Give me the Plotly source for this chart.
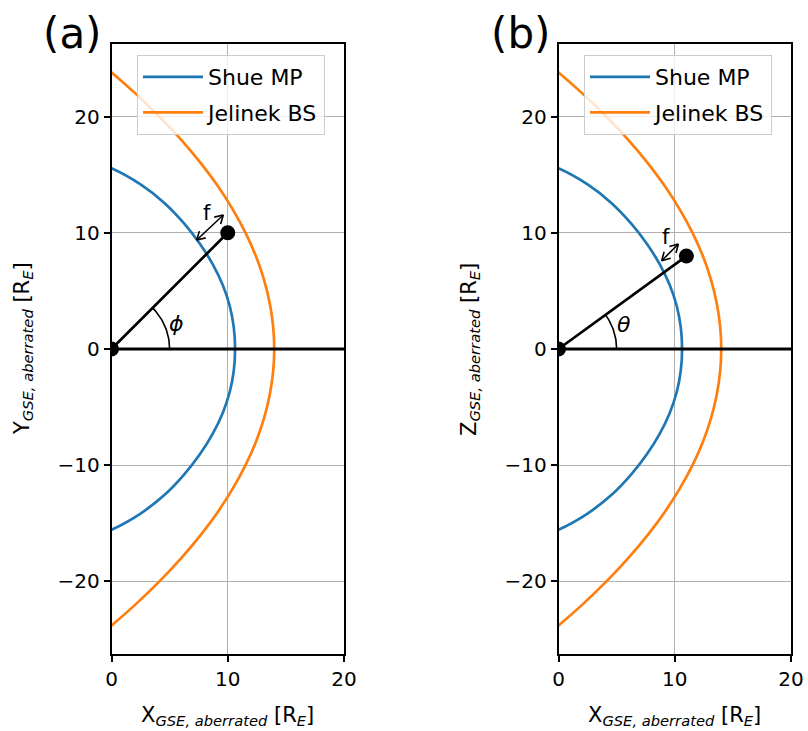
import math
import plotly.graph_objects as go

# ---------------- data ----------------
# Shue magnetopause (X, Y) in R_E
mp_x = [-2.92, 0.0, 2.50, 4.57, 6.24, 7.60, 8.70, 9.56, 10.17, 10.52, 10.63,
        10.52, 10.17, 9.56, 8.70, 7.60, 6.24, 4.57, 2.50, 0.0, -2.92]
mp_y = [-16.55, -15.55, -14.16, -12.55, -10.81, -9.06, -7.30, -5.52, -3.70, -1.86, 0.0,
        1.86, 3.70, 5.52, 7.30, 9.06, 10.81, 12.55, 14.16, 15.55, 16.55]

# Jelinek bow shock (X, Y) in R_E
bs_y = [-26, -24, -22, -20, -18, -16, -14, -12, -10, -8, -6, -4, -2, 0,
        2, 4, 6, 8, 10, 12, 14, 16, 18, 20, 22, 24, 26]
bs_x = [-2.70, -0.23, 2.05, 4.12, 6.00, 7.68, 9.16, 10.44, 11.53, 12.42, 13.11, 13.60, 13.90, 14.00,
        13.90, 13.60, 13.11, 12.42, 11.53, 10.44, 9.16, 7.68, 6.00, 4.12, 2.05, -0.23, -2.70]

# spacecraft positions
point_a = [10.0, 10.0]   # (X, Y)
point_b = [11.0, 8.0]    # (X, Z)

# "f" double arrows: [x0, y0, x1, y1]
arrow_a = [7.33, 9.38, 9.62, 11.53]
arrow_b = [8.88, 7.60, 10.31, 9.04]
f_label_a = [8.19, 11.68]
f_label_b = [9.25, 9.66]
angle_label_a = [5.6, 2.2]
angle_label_b = [5.64, 2.07]
arc_radius = 5.0

x_ticks = [0, 10, 20]
y_ticks = [-20, -10, 0, 10, 20]

BLUE = "#1f77b4"
ORANGE = "#ff7f0e"
FONT = "DejaVu Sans"
W, H = 808, 731


def arc_points(px, py, r):
    ang = math.atan2(py, px)
    n = 40
    xs = [r * math.cos(ang * i / n) for i in range(n + 1)]
    ys = [r * math.sin(ang * i / n) for i in range(n + 1)]
    return xs, ys


def double_arrow(a, hl=0.8, ha=math.radians(30)):
    x0, y0, x1, y1 = a
    dx, dy = x1 - x0, y1 - y0
    L = math.hypot(dx, dy)
    ux, uy = dx / L, dy / L
    xs, ys = [x0, x1, None], [y0, y1, None]

    def rot(vx, vy, t):
        return vx * math.cos(t) - vy * math.sin(t), vx * math.sin(t) + vy * math.cos(t)

    for (ex, ey, sx, sy) in [(x1, y1, ux, uy), (x0, y0, -ux, -uy)]:
        for t in (ha, -ha):
            rx, ry = rot(sx, sy, t)
            xs += [ex - hl * rx, ex, None]
            ys += [ey - hl * ry, ey, None]
    return xs, ys


fig = go.Figure()

panels = [
    ("x", "y", "legend", point_a, arrow_a, f_label_a, angle_label_a, "ϕ"),
    ("x2", "y2", "legend2", point_b, arrow_b, f_label_b, angle_label_b, "θ"),
]

for xr, yr, leg, pt, arr, fl, al, sym in panels:
    fig.add_trace(go.Scatter(x=mp_x, y=mp_y, mode="lines", name="Shue MP",
                             line=dict(color=BLUE, width=2.7, shape="spline", smoothing=1.0),
                             xaxis=xr, yaxis=yr, legend=leg, legendgroup="mp" + xr))
    fig.add_trace(go.Scatter(x=bs_x, y=bs_y, mode="lines", name="Jelinek BS",
                             line=dict(color=ORANGE, width=2.7, shape="spline", smoothing=1.0),
                             xaxis=xr, yaxis=yr, legend=leg, legendgroup="bs" + xr))
    # radial line
    fig.add_trace(go.Scatter(x=[0, pt[0]], y=[0, pt[1]], mode="lines",
                             line=dict(color="black", width=2.7),
                             xaxis=xr, yaxis=yr, showlegend=False, hoverinfo="skip"))
    # angle arc
    ax_, ay_ = arc_points(pt[0], pt[1], arc_radius)
    fig.add_trace(go.Scatter(x=ax_, y=ay_, mode="lines",
                             line=dict(color="black", width=1.6),
                             xaxis=xr, yaxis=yr, showlegend=False, hoverinfo="skip"))
    # f arrow
    dx_, dy_ = double_arrow(arr)
    fig.add_trace(go.Scatter(x=dx_, y=dy_, mode="lines",
                             line=dict(color="black", width=1.6),
                             xaxis=xr, yaxis=yr, showlegend=False, hoverinfo="skip"))
    # points (origin and spacecraft)
    fig.add_trace(go.Scatter(x=[0, pt[0]], y=[0, pt[1]], mode="markers",
                             marker=dict(color="black", size=15),
                             cliponaxis=True,
                             xaxis=xr, yaxis=yr, showlegend=False, hoverinfo="skip"))
    fig.add_annotation(x=fl[0], y=fl[1], xref=xr, yref=yr, text="f", showarrow=False,
                       font=dict(family=FONT, size=21, color="black"))
    fig.add_annotation(x=al[0], y=al[1], xref=xr, yref=yr, text="<i>%s</i>" % sym,
                       showarrow=False, font=dict(family=FONT, size=22, color="black"))
    # y = 0 line
    fig.add_shape(type="line", xref=xr + " domain", yref=yr, x0=0, x1=1, y0=0, y1=0,
                  line=dict(color="black", width=3))

axis_common = dict(showline=True, linecolor="black", linewidth=1.6, mirror=True,
                   ticks="outside", ticklen=6, tickwidth=1.5, tickcolor="black",
                   showgrid=True, gridcolor="#b0b0b0", gridwidth=1.2, zeroline=False,
                   tickfont=dict(family=FONT, size=20, color="black"), automargin=False)

ydom = [1 - 654 / H, 1 - 44 / H]
legend_common = dict(xanchor="left", yanchor="top",
                     bgcolor="rgba(255,255,255,0.8)", bordercolor="#cccccc", borderwidth=1,
                     font=dict(family=FONT, size=22, color="black"), itemwidth=60,
                     tracegroupgap=4)
fig.update_layout(
    width=W, height=H, autosize=False,
    margin=dict(l=0, r=0, t=0, b=0),
    paper_bgcolor="white", plot_bgcolor="white",
    font=dict(family=FONT, color="black"),
    xaxis=dict(domain=[111.5 / W, 344 / W], range=[0, 20], tickvals=x_ticks, anchor="y", **axis_common),
    yaxis=dict(domain=ydom, range=[-26.25, 26.25], tickvals=y_ticks, anchor="x", **axis_common),
    xaxis2=dict(domain=[558.5 / W, 791 / W], range=[0, 20], tickvals=x_ticks, anchor="y2", **axis_common),
    yaxis2=dict(domain=ydom, range=[-26.25, 26.25], tickvals=y_ticks, anchor="x2", **axis_common),
    legend=dict(x=137 / W, y=1 - 55 / H, **legend_common),
    legend2=dict(x=584 / W, y=1 - 55 / H, **legend_common),
)

xt = "X<sub><i>GSE, aberrated</i></sub> [R<sub><i>E</i></sub>]"
yt_a = "Y<sub><i>GSE, aberrated</i></sub> [R<sub><i>E</i></sub>]"
yt_b = "Z<sub><i>GSE, aberrated</i></sub> [R<sub><i>E</i></sub>]"
title_font = dict(family=FONT, size=21, color="black")
for txt, x, y, ang in [(xt, 227 / W, 1 - 716 / H, 0), (xt, 674 / W, 1 - 716 / H, 0),
                       (yt_a, 23 / W, 1 - 349 / H, -90), (yt_b, 470 / W, 1 - 349 / H, -90)]:
    fig.add_annotation(x=x, y=y, xref="paper", yref="paper", text=txt, showarrow=False,
                       textangle=ang, font=title_font, xanchor="center", yanchor="middle")

for txt, x in [("(a)", 72 / W), ("(b)", 520 / W)]:
    fig.add_annotation(x=x, y=1 - 33 / H, xref="paper", yref="paper", text=txt, showarrow=False,
                       font=dict(family=FONT, size=42, color="black"),
                       xanchor="center", yanchor="middle")

fig.write_html("out.html")
